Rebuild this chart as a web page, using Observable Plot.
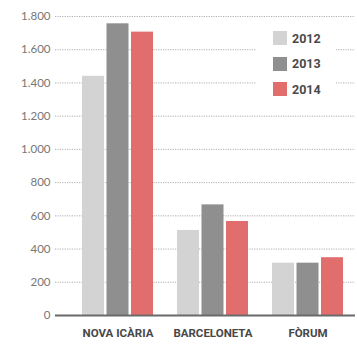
<!DOCTYPE html>
<html>
<head>
<meta charset="utf-8">
<script src="https://cdn.jsdelivr.net/npm/d3@7"></script>
<script src="https://cdn.jsdelivr.net/npm/@observablehq/plot@0.6"></script>
<style>
  html, body { margin: 0; padding: 0; background: #ffffff; }
  #wrap { position: relative; width: 357px; height: 358px; overflow: hidden; }
  #legend { position: absolute; left: 256px; top: 25px; width: 80px; height: 78px; background: #ffffff;
    font-family: Roboto, "Open Sans", sans-serif; font-weight: 700; font-size: 12.5px; color: #4a4a4a; }
  .item { position: absolute; left: 17px; height: 14px; display: flex; align-items: center; }
  .sw { width: 14px; height: 14px; margin-right: 5px; }
</style>
</head>
<body>
<div id="wrap"><div id="chart"></div><div id="legend"></div></div>
<script>
const categories = ["NOVA ICÀRIA", "BARCELONETA", "FÒRUM"];
const years = ["2012", "2013", "2014"];
const values2012 = [1440, 512, 315];
const values2013 = [1756, 666, 315];
const values2014 = [1706, 566, 348];
const yearColors = ["#d3d3d3", "#8f8f8f", "#e26d6d"];
const yTicks = [0, 200, 400, 600, 800, 1000, 1200, 1400, 1600, 1800];
const yTickLabels = ["0", "200", "400", "600", "800", "1.000", "1.200", "1.400", "1.600", "1.800"];

const series = [values2012, values2013, values2014];
const rows = [];
series.forEach((vals, j) => vals.forEach((v, i) => rows.push({category: categories[i], year: years[j], value: v})));

const insets = [[0, 49], [24.5, 24.5], [49, 0]];
const gridTicks = yTicks.filter(t => t > 0);

const chart = Plot.plot({
  width: 357,
  height: 358,
  marginLeft: 55,
  marginRight: 2,
  marginTop: 16,
  marginBottom: 43,
  style: {background: "#ffffff", fontFamily: "Lato, 'Open Sans', sans-serif"},
  x: {domain: categories, paddingInner: 0.257, paddingOuter: 0.199, align: 0.676, label: null},
  y: {domain: [0, 1800], label: null},
  color: {domain: years, range: yearColors},
  marks: [
    Plot.ruleY(gridTicks, {stroke: "#9a9a9a", strokeWidth: 0.8, strokeDasharray: "1.2,1.2"}),
    ...years.map((yr, j) => Plot.barY(rows.filter(d => d.year === yr), {
      x: "category", y: "value", fill: "year",
      insetLeft: insets[j][0], insetRight: insets[j][1]
    })),
    Plot.ruleY([0], {stroke: "#6a6a6a", strokeWidth: 1.8}),
    Plot.axisY(yTicks, {tickSize: 0, tickPadding: 5, fontSize: 11.5, fill: "#777777",
      tickFormat: d => yTickLabels[yTicks.indexOf(d)], label: null}),
    Plot.axisX({tickSize: 0, tickPadding: 13, fontSize: 11.5, fontWeight: "bold", fill: "#474747",
      fontFamily: "Roboto, sans-serif", label: null})
  ]
});
document.getElementById("chart").appendChild(chart);

const legend = document.getElementById("legend");
years.forEach((yr, j) => {
  const it = document.createElement("div");
  it.className = "item";
  it.style.top = (6 + j * 25.5) + "px";
  const sw = document.createElement("div");
  sw.className = "sw";
  sw.style.background = yearColors[j];
  const tx = document.createElement("span");
  tx.textContent = yr;
  it.appendChild(sw); it.appendChild(tx);
  legend.appendChild(it);
});
</script>
</body>
</html>
